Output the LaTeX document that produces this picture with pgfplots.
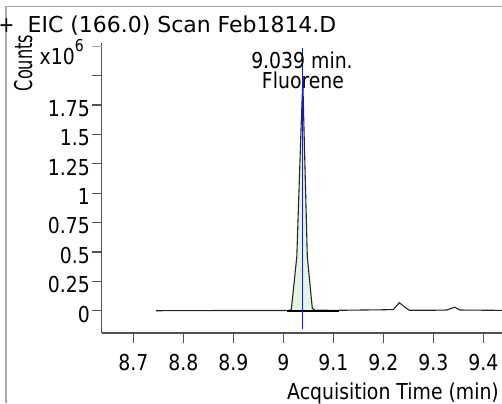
\documentclass[border=0pt]{standalone}
\usepackage{fontspec}
\setmainfont{DejaVu Sans}[FakeStretch=0.86]
\usepackage{pgfplots}
\pgfplotsset{compat=1.18}
\definecolor{axgray}{HTML}{505050}
\definecolor{framegray}{HTML}{A8A8A8}
\definecolor{peakfill}{HTML}{E2F7E2}
\definecolor{rtblue}{HTML}{2020B0}
\newcommand{\fs}{\fontsize{22}{26}\selectfont}
\begin{document}
\begin{tikzpicture}[x=1bp,y=1bp]
\useasboundingbox (0,0) rectangle (502,-403);
\draw[framegray, line width=1.5bp] (6,-403) -- (6,-6.7) -- (502,-6.7);
\begin{axis}[at={(101.7bp,-333bp)}, anchor=south west, scale only axis,
  width=400.3bp, height=290bp,
  xmin=8.6368, xmax=9.4374, ymin=-0.1896, ymax=2.2764,
  axis x line=bottom, axis y line=left,
  axis line style={axgray, line width=1.2bp, -},
  xtick={8.7,8.8,8.9,9.0,9.1,9.2,9.3,9.4},
  xticklabels={8.7,8.8,8.9,9,9.1,9.2,9.3,9.4},
  ytick={0,0.25,0.5,0.75,1,1.25,1.5,1.75,2},
  yticklabels={0,0.25,0.5,0.75,1,1.25,1.5,1.75,},
  extra y ticks={2.25}, extra y tick labels={},
  extra y tick style={tick style={gray!70, line width=1.2bp}},
  tick align=outside, major tick length=10bp,
  tick style={axgray, line width=1.2bp},
  ticklabel style={font=\fs, text=black},
  xticklabel style={inner sep=0pt, yshift=-11.3bp},
  yticklabel style={inner sep=0pt, xshift=-1.7bp, yshift=-3.5bp},
  clip=false]
\addplot[draw=none, fill=peakfill] coordinates {
(9.012,0) (9.016,0.01) (9.027,0.46) (9.0354,1.54) (9.039,1.96) (9.0414,1.54) (9.048,0.46) (9.058,0.02) (9.063,0.0)
} -- cycle;
\addplot[black!85, line width=1.1bp] coordinates {
(8.745,0) (8.90,0.002) (9.000,0.002) (9.012,0.003) (9.016,0.01) (9.027,0.46)
(9.0354,1.54) (9.039,1.96) (9.0414,1.54) (9.048,0.46) (9.058,0.02) (9.063,0.005)
(9.10,0.003) (9.20,0.008) (9.220,0.010) (9.232,0.068) (9.245,0.025) (9.252,0.004)
(9.30,0.004) (9.327,0.006) (9.343,0.030) (9.353,0.006) (9.437,0.003)
};
\addplot[black, line width=2bp] coordinates {(9.008,-0.004) (9.112,-0.004)};
\addplot[rtblue, line width=1.1bp] coordinates {(9.039,-0.156) (9.039,2.234)};
\end{axis}
\node[anchor=base, inner sep=0pt, font=\fs] at (6.5,-32) {+};
\node[anchor=base west, inner sep=0pt, font=\fs] at (27.5,-32) {\scalebox{1.165}[1]{EIC (166.0) Scan Feb1814.D}};
\node[anchor=base, rotate=90, inner sep=0pt, font=\fontsize{24.5}{28}\selectfont] at (32,-63) {\scalebox{0.77}[1]{Counts}};
\node[anchor=base east, inner sep=0pt, font=\fs] at (84,-64) {x10\raisebox{13bp}{\fontsize{16.5}{16.5}\selectfont 6}};
\node[anchor=base, inner sep=0pt, font=\fs] at (302,-68) {9.039 min.};
\node[anchor=base, inner sep=0pt, font=\fs] at (303,-88) {Fluorene};
\node[anchor=base east, inner sep=0pt, font=\fs] at (499,-399) {Acquisition Time (min)};
\end{tikzpicture}
\end{document}
